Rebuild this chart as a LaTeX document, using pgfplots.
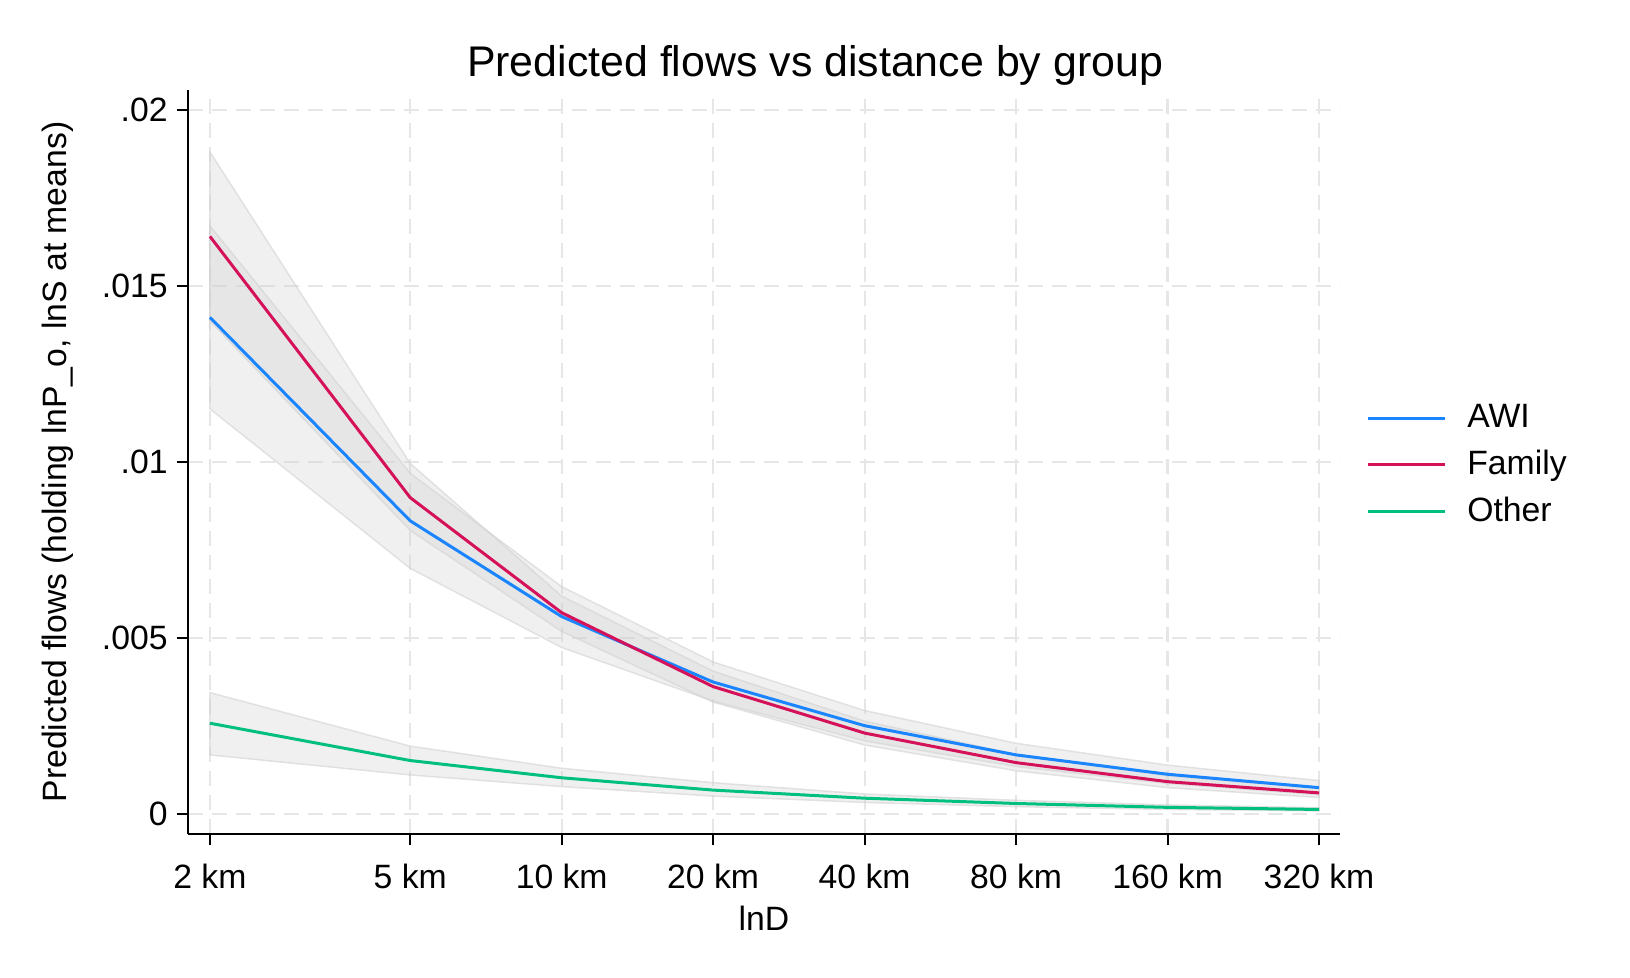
\documentclass[border=0pt]{standalone}
\usepackage{fontspec}
\setmainfont{Liberation Sans}
\usepackage{pgfplots}
\pgfplotsset{compat=1.18}
\usepackage{pgfplotstable}
\usepgfplotslibrary{fillbetween}

\definecolor{cawi}{RGB}{26,133,255}
\definecolor{cfam}{RGB}{212,17,89}
\definecolor{coth}{RGB}{0,191,127}
\definecolor{bandfill}{RGB}{210,210,210}
\definecolor{gridc}{RGB}{230,230,230}

\pgfplotstableread{
d   awi     awilo   awihi   fam     famlo   famhi   oth     othlo   othhi
2   0.01410 0.01150 0.01670 0.01640 0.01400 0.01880 0.00257 0.00167 0.00344
5   0.00832 0.00697 0.00967 0.00898 0.00805 0.00995 0.00151 0.00110 0.00192
10  0.00560 0.00472 0.00645 0.00571 0.00518 0.00618 0.00102 0.00077 0.00129
20  0.00374 0.00320 0.00431 0.00361 0.00317 0.00405 0.00067 0.00050 0.00088
40  0.00250 0.00207 0.00293 0.00229 0.00195 0.00263 0.00044 0.00032 0.00056
80  0.00167 0.00134 0.00200 0.00145 0.00122 0.00168 0.00029 0.00020 0.00038
160 0.00112 0.00086 0.00138 0.00091 0.00074 0.00108 0.00018 0.00012 0.00025
320 0.00074 0.00054 0.00094 0.00059 0.00046 0.00072 0.00012 0.00008 0.00017
}\data

\begin{document}
\begin{tikzpicture}
\begin{axis}[
  at={(18.8mm,14.4mm)}, anchor=south west,
  width=115.2mm, height=74.4mm, scale only axis,
  xmode=log, xmin=1.809, xmax=352.2,
  ymin=-0.000577, ymax=0.02056,
  axis x line*=bottom, axis y line*=left,
  axis line style={-, line width=0.6pt, black},
  xtick={2,5,10,20,40,80,160,320},
  xticklabels={2 km,5 km,10 km,20 km,40 km,80 km,160 km,320 km},
  minor xtick={},
  ytick={0,0.005,0.01,0.015,0.02},
  yticklabels={0,.005,.01,.015,.02},
  scaled y ticks=false,
  tick align=outside, major tick length=1.1mm,
  tick style={black, line width=0.6pt},
  grid=major,
  major grid style={gridc, dash pattern=on 1.5mm off 0.9mm, line width=0.22mm},
  tick label style={font=\fontsize{9.6}{11}\selectfont},
  xticklabel style={yshift=-0.62mm},
  yticklabel style={xshift=0.3mm},
  xlabel={lnD},
  ylabel={Predicted flows (holding lnP\_o, lnS at means)},
  label style={font=\fontsize{9.6}{11}\selectfont},
  xlabel style={at={(axis description cs:0.5,-0.1129)}, anchor=center},
  ylabel style={at={(axis description cs:-0.1128,0.5)}, anchor=center, rotate=0},
  legend style={at={(axis description cs:1,0.5)}, anchor=west, draw=none, fill=none,
    font=\fontsize{9.6}{11}\selectfont, xshift=1.5mm, yshift=-0.35mm, row sep=0.3mm,
    /tikz/every odd column/.append style={column sep=1.4mm}},
  legend cell align=left,
  legend image code/.code={\draw[#1, line width=0.3mm] (0mm,0mm) -- (7.7mm,0mm);},
]
\addplot[name path=awilo, draw=none, forget plot] table[x=d,y=awilo]{\data};
\addplot[name path=awihi, draw=none, forget plot] table[x=d,y=awihi]{\data};
\addplot[fill=bandfill, fill opacity=0.33, draw=bandfill, draw opacity=0.6, line width=0.15mm, forget plot] fill between[of=awilo and awihi];
\addplot[name path=famlo, draw=none, forget plot] table[x=d,y=famlo]{\data};
\addplot[name path=famhi, draw=none, forget plot] table[x=d,y=famhi]{\data};
\addplot[fill=bandfill, fill opacity=0.33, draw=bandfill, draw opacity=0.6, line width=0.15mm, forget plot] fill between[of=famlo and famhi];
\addplot[name path=othlo, draw=none, forget plot] table[x=d,y=othlo]{\data};
\addplot[name path=othhi, draw=none, forget plot] table[x=d,y=othhi]{\data};
\addplot[fill=bandfill, fill opacity=0.33, draw=bandfill, draw opacity=0.6, line width=0.15mm, forget plot] fill between[of=othlo and othhi];

\addplot[cawi, mark=none, line width=0.3mm] table[x=d,y=awi]{\data};
\addlegendentry{AWI}
\addplot[cfam, mark=none, line width=0.3mm] table[x=d,y=fam]{\data};
\addlegendentry{Family}
\addplot[coth, mark=none, line width=0.3mm] table[x=d,y=oth]{\data};
\addlegendentry{Other}
\end{axis}
\node[font=\fontsize{12.2}{14}\selectfont] at (81.5mm,91.3mm) {Predicted flows vs distance by group};
\pgfresetboundingbox
\useasboundingbox (0,0) rectangle (163mm,97.8mm);
\end{tikzpicture}
\end{document}
